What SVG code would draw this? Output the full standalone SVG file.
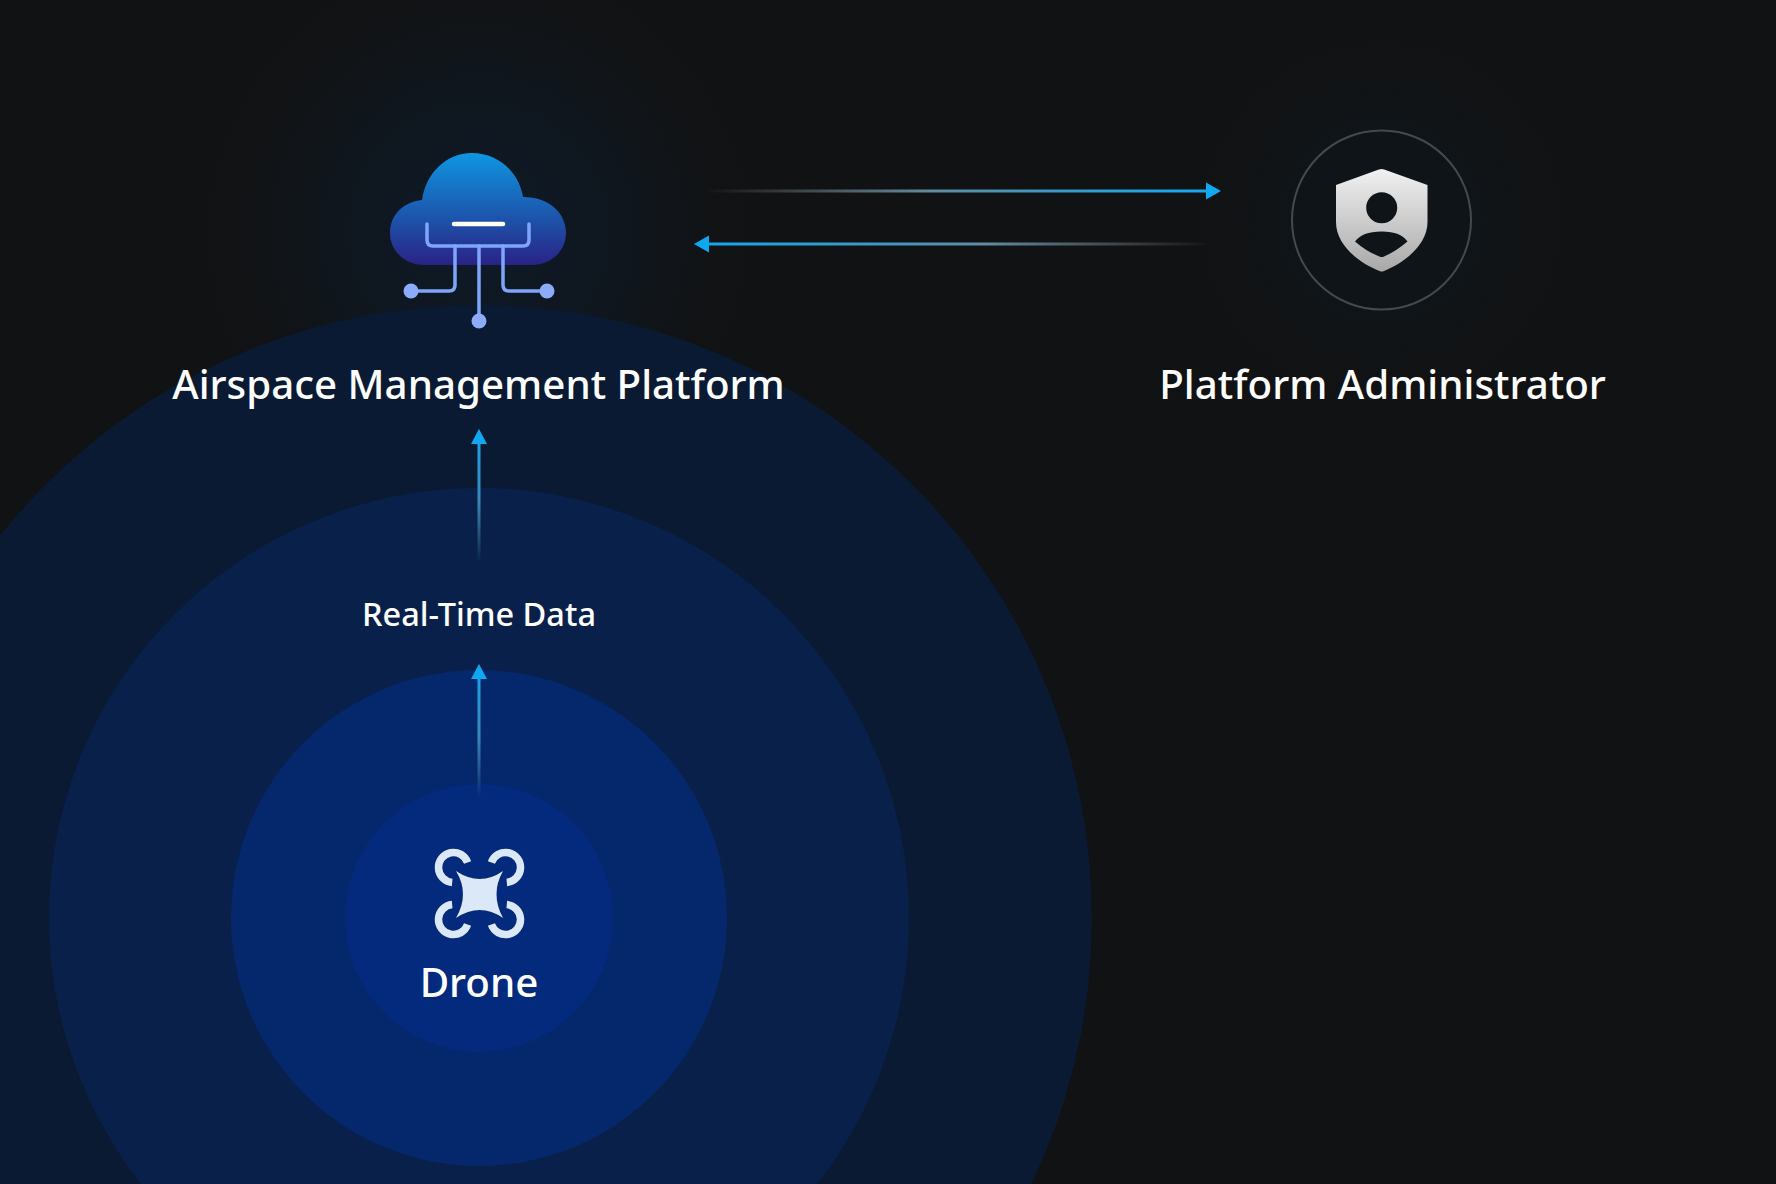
<svg xmlns="http://www.w3.org/2000/svg" width="1776" height="1184" viewBox="0 0 1776 1184">
<defs>
<radialGradient id="glowA" gradientUnits="userSpaceOnUse" cx="478" cy="232" r="300"><stop offset="0" stop-color="#0c2036" stop-opacity="0.6"/><stop offset="0.5" stop-color="#0c1e32" stop-opacity="0.35"/><stop offset="1" stop-color="#111213" stop-opacity="0"/></radialGradient>
<radialGradient id="glowB" gradientUnits="userSpaceOnUse" cx="1382" cy="220" r="210"><stop offset="0" stop-color="#0c1822" stop-opacity="0.8"/><stop offset="0.5" stop-color="#0e161c" stop-opacity="0.5"/><stop offset="1" stop-color="#111213" stop-opacity="0"/></radialGradient>
<linearGradient id="cloudFill" gradientUnits="userSpaceOnUse" x1="0" y1="153" x2="0" y2="266"><stop offset="0" stop-color="#0f96e2"/><stop offset="0.55" stop-color="#1c57ad"/><stop offset="1" stop-color="#2a2185"/></linearGradient>
<linearGradient id="shieldFill" gradientUnits="userSpaceOnUse" x1="0" y1="170" x2="0" y2="272"><stop offset="0" stop-color="#f0f0f0"/><stop offset="1" stop-color="#a8a8a8"/></linearGradient>
<linearGradient id="lineR" gradientUnits="userSpaceOnUse" x1="705" y1="0" x2="1210" y2="0"><stop offset="0" stop-color="#8c8c8c" stop-opacity="0"/><stop offset="0.45" stop-color="#5f8da3"/><stop offset="1" stop-color="#0fa9f2"/></linearGradient>
<linearGradient id="lineL" gradientUnits="userSpaceOnUse" x1="1212" y1="0" x2="706" y2="0"><stop offset="0" stop-color="#8c8c8c" stop-opacity="0"/><stop offset="0.45" stop-color="#5f8da3"/><stop offset="1" stop-color="#0fa9f2"/></linearGradient>
<linearGradient id="lineU1" gradientUnits="userSpaceOnUse" x1="0" y1="562" x2="0" y2="440"><stop offset="0" stop-color="#4d8fb5" stop-opacity="0"/><stop offset="0.5" stop-color="#3a88b8"/><stop offset="1" stop-color="#18a4e8"/></linearGradient>
<linearGradient id="lineU2" gradientUnits="userSpaceOnUse" x1="0" y1="798" x2="0" y2="676"><stop offset="0" stop-color="#4d8fb5" stop-opacity="0"/><stop offset="0.5" stop-color="#3a88b8"/><stop offset="1" stop-color="#18a4e8"/></linearGradient>
</defs>
<style>
text{font-family:"Noto Sans","Open Sans",sans-serif;fill:#fff;text-anchor:middle;font-weight:500}
.big{font-size:40.300px}
.sm{font-size:32.500px}
.c{fill:none;stroke:#7fa5fb;stroke-width:3.5;stroke-linecap:round}
.d{fill:#8cacfb}
.arrow{fill:#0fa9f2}
</style>
<rect width="1776" height="1184" fill="#111213"/>
<circle cx="478" cy="232" r="300" fill="url(#glowA)"/>
<circle cx="1382" cy="220" r="210" fill="url(#glowB)"/>
<g id="range-rings">
<circle cx="479" cy="918" r="613" fill="#0a1a33"/>
<circle cx="479" cy="918" r="430" fill="#09214a"/>
<circle cx="479" cy="918" r="248" fill="#05286c"/>
<circle cx="479" cy="918" r="134" fill="#032a7c"/>
</g>
<g id="connectors">
<path d="M705 191H1210" fill="none" stroke="url(#lineR)" stroke-width="3"/>
<polygon class="arrow" points="1221,191 1206,182.500 1206,199.500"/>
<path d="M1212 244H706" fill="none" stroke="url(#lineL)" stroke-width="3"/>
<polygon class="arrow" points="694,244 709,235.500 709,252.500"/>
<path d="M479 562V440" fill="none" stroke="url(#lineU1)" stroke-width="3"/>
<polygon class="arrow" points="479,429 471,444 487,444"/>
<path d="M479 798V676" fill="none" stroke="url(#lineU2)" stroke-width="3"/>
<polygon class="arrow" points="479,664 471,679 487,679"/>
</g>
<g id="node-platform">
<path fill="url(#cloudFill)" d="M422 200C426 173 446 153 472 153C498 153 519 172 523 197C549 197 566 213 566 233C566 251 551 265 532 265H424C405 265 390 251 390 233C390 215 403 202 422 200Z"/>
<path class="c" d="M427 224V240Q427 246 433 246H523Q529 246 529 240V224"/>
<path d="M454 224H503" stroke="#fff" stroke-width="4.500" stroke-linecap="round" fill="none"/>
<path class="c" d="M455 246V285Q455 291 449 291H412"/>
<path class="c" d="M503 246V285Q503 291 509 291H546"/>
<path class="c" d="M479 246V320"/>
<circle class="d" cx="411" cy="291" r="7.500"/>
<circle class="d" cx="547" cy="291" r="7.500"/>
<circle class="d" cx="479" cy="321" r="7.500"/>
<text class="big" x="478.500" y="399">Airspace Management Platform</text>
</g>
<g id="node-admin">
<circle cx="1381.500" cy="220" r="89.500" fill="#0e1418" stroke="#46494c" stroke-width="2"/>
<path fill="url(#shieldFill)" d="M1381.700 169Q1384 169 1387 170.500L1427.500 185V222C1427.500 245 1404 263 1384 271Q1381.700 272 1379.500 271C1359 263 1336 245 1336 222V185L1376 170.500Q1379 169 1381.700 169Z"/>
<circle cx="1381.700" cy="207.700" r="15.500" fill="#0e1418"/>
<path fill="#0e1418" d="M1381.700 231.500C1395 231.500 1403 235 1407.500 241.500Q1395 252 1384 256.500Q1381.700 257.500 1379.500 256.500Q1367 252 1355 241.500C1360 235 1368 231.500 1381.700 231.500Z"/>
<text class="big" x="1382.500" y="399">Platform Administrator</text>
</g>
<g id="label-data"><text class="sm" x="479" y="626">Real-Time Data</text></g>
<g id="node-drone">
<g fill="none" stroke="#dbe8f7" stroke-width="7.500">
<path d="M467.600 862.400A15 15 0 1 0 452.200 882.400"/>
<path d="M491.400 862.400A15 15 0 1 1 506.800 882.400"/>
<path d="M452.200 904.600A15 15 0 1 0 467.600 924.600"/>
<path d="M506.800 904.600A15 15 0 1 1 491.400 924.600"/>
</g>
<path fill="#dbe8f7" d="M456 871Q480 887 503 871Q490 894 503 918Q480 902 456 918Q470 894 456 871Z"/>
<text class="big" x="479" y="996.500">Drone</text>
</g>
</svg>
